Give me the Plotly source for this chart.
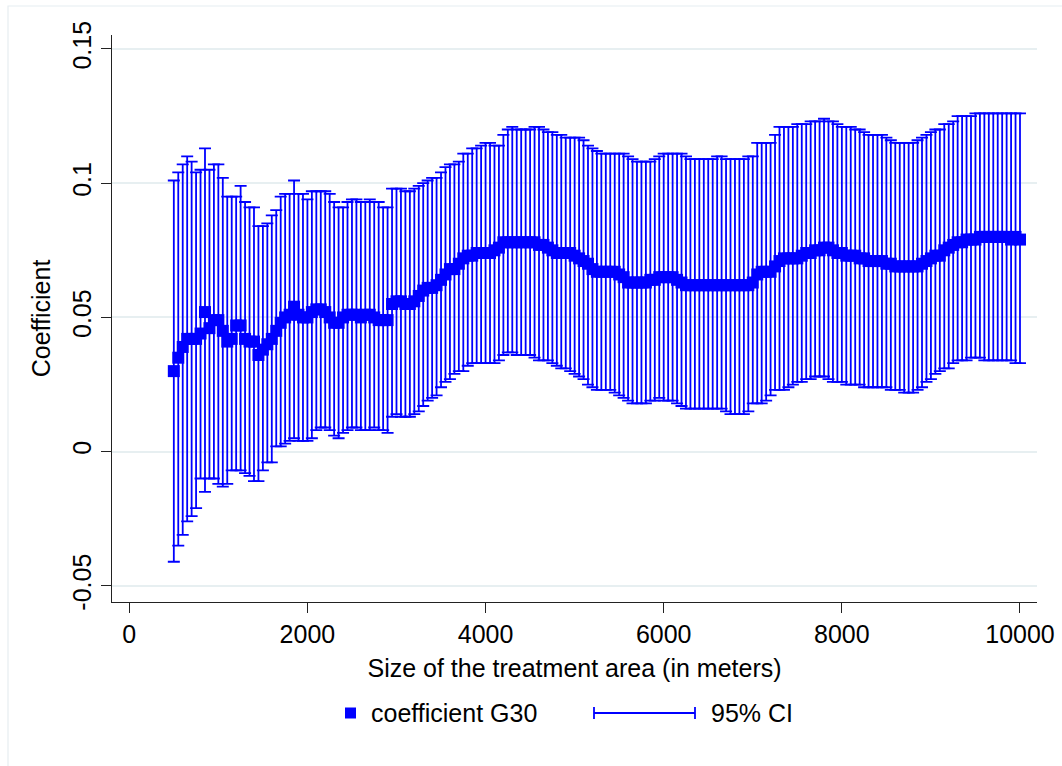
import plotly.graph_objects as go

# Size of the treatment area (meters)
size_m = list(range(500, 10001, 50))

coef_g30 = [
    0.030, 0.035, 0.039, 0.042, 0.042, 0.042, 0.044, 0.052, 0.046, 0.049,
    0.049, 0.045, 0.041, 0.042, 0.047, 0.047, 0.042, 0.041, 0.041, 0.036,
    0.038, 0.040, 0.042, 0.045, 0.048, 0.050, 0.051, 0.054, 0.051, 0.050,
    0.050, 0.052, 0.053, 0.053, 0.052, 0.050, 0.048, 0.048, 0.050, 0.051,
    0.051, 0.051, 0.050, 0.051, 0.051, 0.050, 0.049, 0.049, 0.049, 0.055,
    0.056, 0.056, 0.055, 0.055, 0.056, 0.058, 0.060, 0.061, 0.061, 0.062,
    0.064, 0.066, 0.068, 0.068, 0.070, 0.072, 0.073, 0.073, 0.074, 0.074,
    0.074, 0.074, 0.075, 0.076, 0.078, 0.078, 0.078, 0.078, 0.078, 0.078,
    0.078, 0.078, 0.077, 0.077, 0.076, 0.075, 0.074, 0.074, 0.074, 0.074,
    0.073, 0.072, 0.071, 0.070, 0.068, 0.067, 0.067, 0.067, 0.067, 0.067,
    0.066, 0.065, 0.063, 0.063, 0.063, 0.063, 0.063, 0.064, 0.064, 0.065,
    0.065, 0.065, 0.065, 0.064, 0.063, 0.062, 0.062, 0.062, 0.062, 0.062,
    0.062, 0.062, 0.062, 0.062, 0.062, 0.062, 0.062, 0.062, 0.062, 0.062,
    0.063, 0.066, 0.067, 0.067, 0.067, 0.069, 0.071, 0.072, 0.072, 0.072,
    0.072, 0.073, 0.074, 0.074, 0.075, 0.075, 0.076, 0.076, 0.075, 0.074,
    0.074, 0.073, 0.073, 0.073, 0.072, 0.072, 0.071, 0.071, 0.071, 0.071,
    0.070, 0.070, 0.069, 0.069, 0.069, 0.069, 0.069, 0.069, 0.070, 0.071,
    0.072, 0.073, 0.073, 0.075, 0.076, 0.077, 0.078, 0.078, 0.079, 0.079,
    0.079, 0.080, 0.080, 0.080, 0.080, 0.080, 0.080, 0.080, 0.079, 0.080,
    0.079,
]

ci_upper = [
    0.101, 0.104, 0.107, 0.110, 0.108, 0.104, 0.105, 0.113, 0.105, 0.107,
    0.107, 0.102, 0.095, 0.095, 0.095, 0.099, 0.093, 0.091, 0.091, 0.084,
    0.084, 0.085, 0.088, 0.090, 0.095, 0.096, 0.096, 0.101, 0.096, 0.096,
    0.094, 0.097, 0.097, 0.097, 0.097, 0.096, 0.093, 0.091, 0.091, 0.093,
    0.094, 0.094, 0.093, 0.093, 0.094, 0.093, 0.093, 0.091, 0.091, 0.098,
    0.098, 0.098, 0.097, 0.097, 0.098, 0.099, 0.100, 0.101, 0.102, 0.102,
    0.104, 0.106, 0.107, 0.107, 0.108, 0.111, 0.111, 0.113, 0.113, 0.114,
    0.115, 0.115, 0.114, 0.114, 0.118, 0.120, 0.121, 0.120, 0.120, 0.120,
    0.120, 0.121, 0.121, 0.120, 0.119, 0.119, 0.118, 0.118, 0.117, 0.117,
    0.117, 0.117, 0.116, 0.114, 0.113, 0.112, 0.111, 0.111, 0.111, 0.111,
    0.111, 0.111, 0.110, 0.109, 0.108, 0.108, 0.108, 0.108, 0.109, 0.110,
    0.111, 0.111, 0.111, 0.111, 0.111, 0.110, 0.109, 0.109, 0.109, 0.109,
    0.109, 0.109, 0.110, 0.110, 0.109, 0.109, 0.109, 0.109, 0.109, 0.110,
    0.110, 0.115, 0.115, 0.115, 0.115, 0.118, 0.121, 0.121, 0.121, 0.121,
    0.122, 0.122, 0.122, 0.123, 0.123, 0.123, 0.124, 0.123, 0.123, 0.122,
    0.121, 0.121, 0.121, 0.120, 0.120, 0.119, 0.118, 0.118, 0.118, 0.118,
    0.117, 0.116, 0.115, 0.115, 0.115, 0.115, 0.115, 0.116, 0.117, 0.118,
    0.119, 0.120, 0.120, 0.122, 0.122, 0.123, 0.125, 0.125, 0.125, 0.125,
    0.126, 0.126, 0.126, 0.126, 0.126, 0.126, 0.126, 0.126, 0.126, 0.126,
    0.126,
]

ci_lower = [
    -0.041, -0.035, -0.031, -0.026, -0.024, -0.021, -0.010, -0.015, -0.010, -0.010,
    -0.012, -0.013, -0.012, -0.007, -0.007, -0.007, -0.008, -0.009, -0.011, -0.011,
    -0.007, -0.004, -0.004, 0.002, 0.002, 0.003, 0.004, 0.005, 0.004, 0.004,
    0.004, 0.005, 0.008, 0.009, 0.009, 0.008, 0.006, 0.005, 0.007, 0.008,
    0.009, 0.009, 0.008, 0.008, 0.008, 0.009, 0.008, 0.008, 0.007, 0.013,
    0.014, 0.013, 0.013, 0.013, 0.014, 0.015, 0.017, 0.019, 0.020, 0.021,
    0.024, 0.026, 0.027, 0.029, 0.030, 0.030, 0.032, 0.033, 0.033, 0.033,
    0.033, 0.033, 0.033, 0.034, 0.036, 0.037, 0.037, 0.036, 0.036, 0.036,
    0.036, 0.035, 0.034, 0.034, 0.034, 0.033, 0.032, 0.031, 0.031, 0.030,
    0.029, 0.028, 0.027, 0.025, 0.024, 0.023, 0.023, 0.023, 0.023, 0.022,
    0.021, 0.020, 0.019, 0.018, 0.018, 0.018, 0.018, 0.019, 0.019, 0.020,
    0.019, 0.019, 0.019, 0.018, 0.017, 0.016, 0.016, 0.016, 0.016, 0.016,
    0.016, 0.016, 0.016, 0.016, 0.015, 0.014, 0.014, 0.014, 0.014, 0.015,
    0.018, 0.018, 0.018, 0.019, 0.021, 0.023, 0.023, 0.023, 0.024, 0.025,
    0.026, 0.026, 0.027, 0.027, 0.028, 0.028, 0.028, 0.027, 0.026, 0.026,
    0.026, 0.025, 0.025, 0.025, 0.025, 0.024, 0.024, 0.024, 0.024, 0.024,
    0.024, 0.023, 0.023, 0.023, 0.022, 0.022, 0.022, 0.023, 0.024, 0.026,
    0.027, 0.029, 0.030, 0.031, 0.031, 0.033, 0.034, 0.034, 0.034, 0.035,
    0.035, 0.035, 0.034, 0.034, 0.034, 0.034, 0.034, 0.034, 0.034, 0.033,
    0.033,
]

x_ticks = [0, 2000, 4000, 6000, 8000, 10000]
x_tick_text = ["0", "2000", "4000", "6000", "8000", "10000"]
y_ticks = [-0.05, 0, 0.05, 0.1, 0.15]
y_tick_text = ["-0.05", "0", "0.05", "0.1", "0.15"]

legend_labels = ["coefficient G30", "95% CI"]

BLUE = "#0000ff"
FONT = "Liberation Sans, Arial, Helvetica, sans-serif"
GRID = "#e7eff1"

err_plus = [u - c for u, c in zip(ci_upper, coef_g30)]
err_minus = [c - l for c, l in zip(coef_g30, ci_lower)]

fig = go.Figure()

# 95% confidence interval drawn as capped vertical bars
fig.add_trace(go.Scatter(
    x=size_m, y=coef_g30, mode="markers",
    marker=dict(size=1, color="rgba(0,0,0,0)"),
    error_y=dict(type="data", symmetric=False, array=err_plus,
                 arrayminus=err_minus, color=BLUE, thickness=1.8, width=6),
    name=legend_labels[1], showlegend=False, hoverinfo="skip",
))

# point estimates
fig.add_trace(go.Scatter(
    x=size_m, y=coef_g30, mode="markers",
    marker=dict(symbol="square", size=12, color=BLUE, line=dict(width=0)),
    name=legend_labels[0], showlegend=False,
))

W, H = 1062, 766
ML, MR, MT, MB = 112, 25, 35, 164
PW, PH = W - ML - MR, H - MT - MB


def px_x(p):
    return (p - ML) / PW


def px_y(p):
    return (H - MB - p) / PH


shapes = [
    # outer light frame around the graph region
    dict(type="rect", xref="paper", yref="paper",
         x0=px_x(8), x1=px_x(1100), y0=px_y(820), y1=px_y(6),
         line=dict(color="#e6edf1", width=1.2), fillcolor="rgba(0,0,0,0)",
         layer="below"),
    # legend key: square marker
    dict(type="rect", xref="paper", yref="paper",
         xsizemode="pixel", ysizemode="pixel",
         xanchor=px_x(350.5), yanchor=px_y(713),
         x0=-5.5, x1=5.5, y0=-5.5, y1=5.5,
         fillcolor=BLUE, line=dict(width=0)),
    # legend key: capped range line
    dict(type="line", xref="paper", yref="paper",
         x0=px_x(594), x1=px_x(695), y0=px_y(713), y1=px_y(713),
         line=dict(color=BLUE, width=1.8)),
    dict(type="line", xref="paper", yref="paper",
         x0=px_x(594), x1=px_x(594), y0=px_y(707), y1=px_y(719),
         line=dict(color=BLUE, width=1.8)),
    dict(type="line", xref="paper", yref="paper",
         x0=px_x(695), x1=px_x(695), y0=px_y(707), y1=px_y(719),
         line=dict(color=BLUE, width=1.8)),
]

annotations = [
    dict(text=legend_labels[0], xref="paper", yref="paper",
         x=px_x(369), y=px_y(713), xanchor="left", yanchor="middle",
         showarrow=False, font=dict(family=FONT, size=25, color="black")),
    dict(text=legend_labels[1], xref="paper", yref="paper",
         x=px_x(709), y=px_y(713), xanchor="left", yanchor="middle",
         showarrow=False, font=dict(family=FONT, size=25, color="black")),
]

fig.update_layout(
    width=W, height=H,
    margin=dict(l=ML, r=MR, t=MT, b=MB, pad=0, autoexpand=False),
    paper_bgcolor="white", plot_bgcolor="white",
    showlegend=False,
    font=dict(family=FONT, size=25, color="black"),
    shapes=shapes, annotations=annotations,
)

fig.update_xaxes(
    range=[-194, 10191], tickvals=x_ticks, ticktext=x_tick_text,
    automargin=False,
    ticks="outside", ticklen=10, tickwidth=1, tickcolor="#222",
    showline=True, linecolor="#222", linewidth=1,
    showgrid=False, zeroline=False,
    tickfont=dict(family=FONT, size=25, color="black"),
    title=dict(text="Size of the treatment area (in meters)",
               font=dict(family=FONT, size=25, color="black"), standoff=12),
)

fig.update_yaxes(
    range=[-0.056, 0.1552], tickvals=y_ticks, ticktext=y_tick_text,
    tickangle=-90, automargin=False,
    ticks="outside", ticklen=10, tickwidth=1, tickcolor="#222",
    showline=True, linecolor="#222", linewidth=1,
    showgrid=True, gridcolor=GRID, gridwidth=1.5, zeroline=False,
    tickfont=dict(family=FONT, size=25, color="black"),
    title=dict(text="Coefficient",
               font=dict(family=FONT, size=25, color="black"), standoff=10),
)

fig.write_html("out.html")
